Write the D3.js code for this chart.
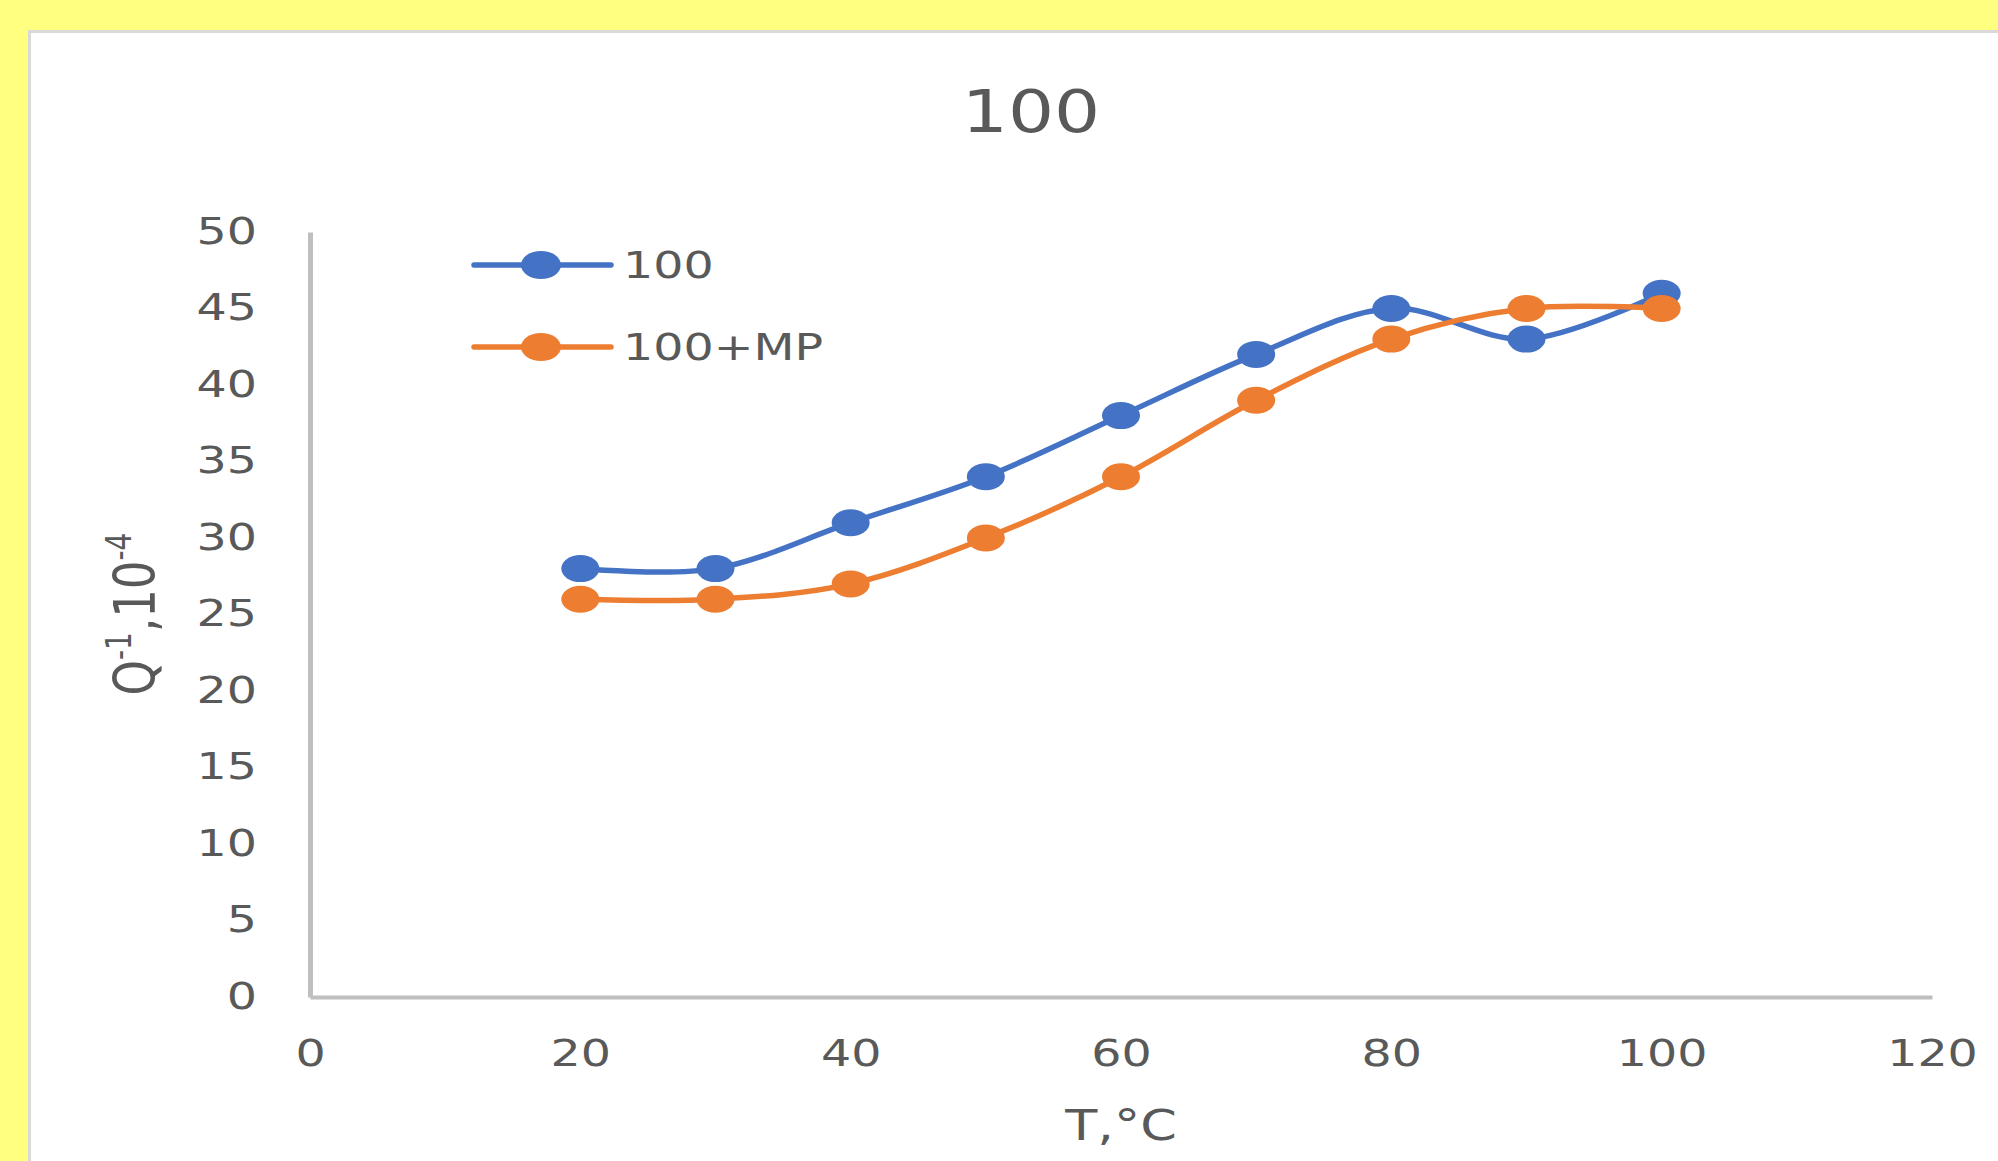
<!DOCTYPE html>
<html><head><meta charset="utf-8">
<script src="https://cdn.jsdelivr.net/npm/d3@7"></script>
<style>
html,body{margin:0;padding:0;background:#ffff80;overflow:hidden;}
svg{display:block;}
text{font-family:"DejaVu Sans",sans-serif;fill:#595959;}
</style></head>
<body>
<script>
const xValues = [20, 30, 40, 50, 60, 70, 80, 90, 100];
const series100 = [28, 28, 31, 34, 38, 42, 45, 43, 46];
const series100MP = [26, 26, 27, 30, 34, 39, 43, 45, 45];
const seriesNames = ["100", "100+MP"];
const seriesColors = ["#4472c4", "#ed7d31"];
const xTicks = [0, 20, 40, 60, 80, 100, 120];
const yTicks = [0, 5, 10, 15, 20, 25, 30, 35, 40, 45, 50];
const titleText = "100";

const W = 1998, H = 1161, SX = 1.25;
const svg = d3.select("body").append("svg").attr("width", W).attr("height", H);
svg.append("rect").attr("width", W).attr("height", H).attr("fill", "#ffff80");
svg.append("rect").attr("x", 29.5).attr("y", 31.5).attr("width", W).attr("height", H)
  .attr("fill", "#fff").attr("stroke", "#d9d9d9").attr("stroke-width", 3);

const x = d3.scaleLinear().domain([0, 120]).range([310, 1932]);
const y = d3.scaleLinear().domain([0, 50]).range([997, 232]);

// title
svg.append("text").attr("transform", `translate(1031,132) scale(${SX},1)`)
  .attr("text-anchor", "middle").attr("font-size", 58).text(titleText);

// axes
const gx = svg.append("g").attr("transform", `translate(0,${y(0)})`)
  .call(d3.axisBottom(x).tickValues(xTicks).tickSize(0).tickFormat(d3.format("d")));
gx.select(".domain").attr("stroke", "#bfbfbf").attr("stroke-width", 4);
gx.selectAll("text").attr("y", 0).attr("dy", 0).attr("transform", `translate(0,69) scale(${SX},1)`)
  .attr("font-size", 38).attr("fill", "#595959").attr("font-family", "DejaVu Sans");

const gy = svg.append("g").attr("transform", `translate(${x(0)},0)`)
  .call(d3.axisLeft(y).tickValues(yTicks).tickSize(0).tickFormat(d3.format("d")));
gy.select(".domain").attr("stroke", "#bfbfbf").attr("stroke-width", 5);
gy.selectAll("text").attr("x", 0).attr("dy", "0.3em").attr("transform", `translate(-53,0) scale(${SX},1)`)
  .attr("font-size", 38).attr("fill", "#595959").attr("font-family", "DejaVu Sans");

// axis titles
svg.append("text").attr("transform", `translate(1121,1140) scale(${SX},1)`)
  .attr("text-anchor", "middle").attr("font-size", 42).text("T,°C");

const yl = svg.append("text").attr("transform", `translate(155,614) scale(${SX},1) rotate(-90)`)
  .attr("text-anchor", "middle").attr("font-size", 45);
yl.append("tspan").text("Q");
yl.append("tspan").attr("font-size", 28).attr("dy", -19).text("-1");
yl.append("tspan").attr("dy", 19).text(",10");
yl.append("tspan").attr("font-size", 28).attr("dy", -19).text("-4");

// lines
const allSeries = [series100, series100MP];
const line = d3.line().x((d, i) => x(xValues[i])).y(d => y(d)).curve(d3.curveCatmullRom.alpha(0));
allSeries.forEach((s, k) => {
  svg.append("path").datum(s).attr("d", line).attr("fill", "none")
    .attr("stroke", seriesColors[k]).attr("stroke-width", 5.5).attr("stroke-linecap", "round");
});
allSeries.forEach((s, k) => {
  svg.selectAll(null).data(s).enter().append("ellipse")
    .attr("cx", (d, i) => x(xValues[i])).attr("cy", d => y(d))
    .attr("rx", 19).attr("ry", 13.5).attr("fill", seriesColors[k]);
});

// legend
const legY = [265, 347];
seriesNames.forEach((n, k) => {
  const g = svg.append("g");
  g.append("line").attr("x1", 474).attr("x2", 611).attr("y1", legY[k]).attr("y2", legY[k])
    .attr("stroke", seriesColors[k]).attr("stroke-width", 5.5).attr("stroke-linecap", "round");
  g.append("ellipse").attr("cx", 541).attr("cy", legY[k]).attr("rx", 20).attr("ry", 14).attr("fill", seriesColors[k]);
  g.append("text").attr("transform", `translate(623,${legY[k] + 13}) scale(${SX},1)`)
    .attr("font-size", 38).text(n);
});
</script>
</body></html>
